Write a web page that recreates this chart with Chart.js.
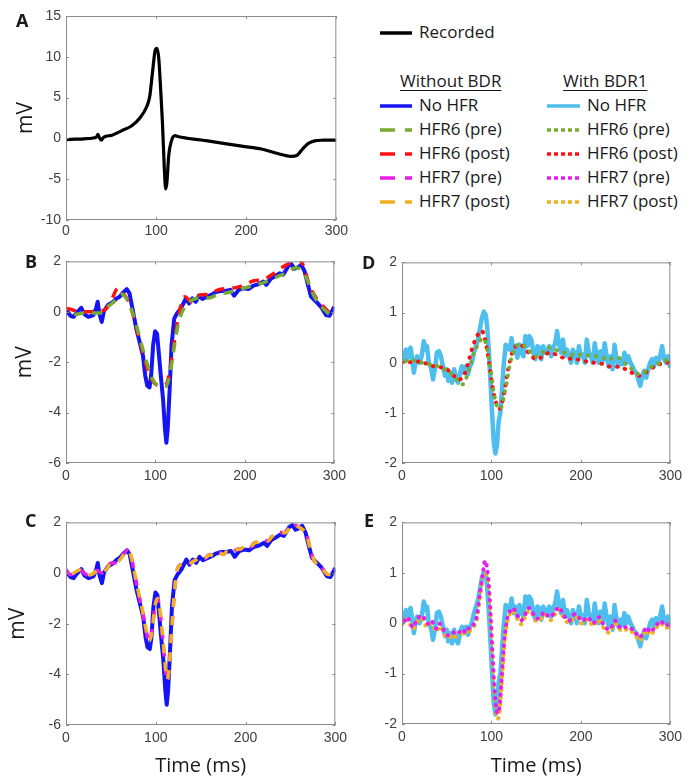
<!DOCTYPE html>
<html>
<head>
<meta charset="utf-8">
<script src="https://cdn.jsdelivr.net/npm/chart.js@4.4.0/dist/chart.umd.min.js"></script>
<style>
  body { margin: 0; background: #fff; width: 689px; height: 783px; position: relative; overflow: hidden;
         font-family: "Open Sans", sans-serif; color: #1a1a1a; }
  canvas { position: absolute; }
  .lbl { position: absolute; font-weight: 700; font-size: 18px; line-height: 18px; }
  .leg { position: absolute; font-size: 17px; line-height: 20px; white-space: nowrap; }
  .hdr { text-decoration: underline; text-underline-offset: 3px; }
  svg { position: absolute; }
</style>
</head>
<body>
<div id="fig"></div>
<script>
// A - recorded signal
const aTime = [0, 10, 20, 30, 34, 35.5, 37, 39, 42, 51, 62, 73, 82, 90, 93, 96, 99, 101, 103, 105, 107, 109, 110.7, 112, 114, 117, 121, 125, 150, 173, 195, 217, 235, 250, 256, 261, 265, 269, 276, 285, 300];
const aRecorded = [-0.15, -0.1, -0.05, 0.05, 0.2, 0.5, 0.1, -0.2, 0.15, 0.4, 0.95, 1.55, 2.5, 4.0, 5.2, 8.1, 10.8, 11.05, 9.75, 6.1, 2.0, -3.4, -6.2, -5.4, -2.1, -0.3, 0.33, 0.2, -0.2, -0.57, -0.95, -1.3, -1.85, -2.2, -2.1, -1.5, -1.0, -0.6, -0.3, -0.22, -0.2];

// B / C - without BDR, no HFR
const bTime = [0, 5, 8.5, 12, 17, 20.7, 25, 30.6, 33.6, 35.4, 37.3, 40, 42.4, 47, 53, 56.5, 60, 64, 68, 71, 75, 78.6, 82.3, 86, 88.6, 90.8, 93.4, 95.2, 97.4, 99.6, 101.8, 104, 106, 108.5, 110.7, 112.2, 113.7, 115.9, 118, 121, 124, 128.4, 134, 137.6, 141.3, 145, 148.7, 152.4, 158, 163.5, 167, 172.7, 178, 183.8, 188, 193, 198.5, 204, 209.6, 215, 220.7, 224, 228.8, 233.6, 239, 242.8, 248.3, 252, 255.7, 259.4, 263, 266.8, 270.5, 274, 279.7, 285, 290.8, 294.5, 300];
const bNoHfr = [0.07, -0.16, -0.2, -0.03, 0.16, -0.1, -0.2, -0.13, 0.13, 0.4, -0.07, -0.4, 0.03, 0.27, 0.4, 0.53, 0.6, 0.77, 0.9, 0.73, 0, -0.67, -1.2, -1.73, -2.53, -2.93, -3.0, -2.53, -1.33, -0.77, -0.87, -1.73, -2.53, -3.47, -4.67, -5.2, -4.67, -3.07, -1.33, -0.27, -0.07, 0.13, 0.53, 0.33, 0.53, 0.4, 0.64, 0.51, 0.6, 0.69, 0.77, 0.83, 0.83, 0.87, 0.64, 0.87, 0.93, 0.9, 1.04, 1.09, 1.2, 1.07, 1.31, 1.4, 1.53, 1.47, 1.8, 1.89, 1.71, 1.76, 1.87, 1.6, 1.07, 0.6, 0.4, 0.2, -0.13, -0.16, 0.2];

const bPostTime = [0, 5, 15, 25, 35, 43, 50, 58, 64, 70, 75, 80, 86, 92, 98, 105, 112, 117, 121, 126, 133, 140, 150, 160, 170, 180, 190, 200, 210, 220, 230, 240, 250, 258, 265, 272, 280, 290, 295, 300];
const bHfr6Post = [0.13, 0.1, 0, 0, 0.03, 0.07, 0.4, 0.93, 0.73, 0.4, -0.13, -0.8, -1.6, -2.4, -2.8, -2.93, -2.87, -2.13, -1.2, -0.13, 0.6, 0.4, 0.67, 0.69, 0.87, 0.93, 0.96, 1.07, 1.23, 1.27, 1.47, 1.73, 1.93, 2.1, 1.87, 1.07, 0.53, 0.13, -0.03, 0.0];

const bPreTime = [0, 10, 20, 30, 38, 45, 55, 62, 68, 75, 80, 86, 92, 98, 105, 112, 117, 121, 126, 133, 140, 150, 160, 170, 180, 190, 200, 210, 220, 230, 240, 250, 256, 262, 268, 275, 282, 290, 295, 300];
const bHfr6Pre = [0.05, -0.1, -0.05, -0.05, -0.05, 0.15, 0.45, 0.7, 0.5, -0.1, -0.7, -1.5, -2.2, -2.75, -2.95, -2.95, -2.3, -1.4, -0.4, 0.2, 0.45, 0.55, 0.55, 0.7, 0.75, 0.85, 0.95, 1.05, 1.15, 1.3, 1.45, 1.6, 1.75, 1.7, 1.4, 0.8, 0.35, 0.05, -0.1, 0.0];

const cTime = [0, 5, 10, 15, 20, 25, 30, 35, 40, 45, 50, 55, 60, 64, 68, 72, 76, 80, 85, 90, 93, 96, 99, 102, 105, 108, 111, 113, 115, 118, 121, 124, 128, 135, 140, 145, 150, 155, 160, 165, 170, 175, 180, 185, 190, 195, 200, 205, 210, 215, 220, 225, 230, 240, 245, 250, 255, 262, 268, 273, 278, 285, 292, 296, 300];
const cHfr7Pre = [0.13, -0.07, 0.03, 0.13, 0, -0.1, -0.03, 0.1, 0, 0.16, 0.4, 0.4, 0.53, 0.73, 0.9, 0.73, 0.07, -0.67, -1.47, -2.4, -2.73, -2.27, -1.33, -1.0, -1.6, -2.67, -3.87, -4.27, -3.73, -2.13, -0.67, 0.13, 0.33, 0.27, 0.43, 0.53, 0.67, 0.6, 0.73, 0.67, 0.83, 0.73, 0.87, 0.8, 0.93, 0.96, 1.09, 1.0, 1.2, 1.23, 1.31, 1.27, 1.47, 1.6, 1.6, 1.87, 1.89, 1.76, 1.53, 0.8, 0.4, 0.2, -0.07, -0.07, 0.13];
const cHfr7Post = [0.12, -0.06, 0.03, 0.12, 0.01, -0.08, -0.03, 0.09, 0.01, 0.15, 0.38, 0.4, 0.52, 0.72, 0.88, 0.72, 0.08, -0.64, -1.44, -2.36, -2.68, -2.24, -1.32, -1.0, -1.58, -2.62, -3.8, -4.2, -3.68, -2.1, -0.66, 0.12, 0.32, 0.27, 0.42, 0.52, 0.66, 0.6, 0.72, 0.67, 0.82, 0.73, 0.86, 0.8, 0.92, 0.96, 1.08, 1.0, 1.19, 1.22, 1.3, 1.27, 1.46, 1.59, 1.6, 1.85, 1.88, 1.75, 1.52, 0.82, 0.41, 0.2, -0.06, -0.06, 0.12];

// D / E - with BDR1, no HFR
const dTime = [0, 2, 4.4, 6, 7.4, 9.6, 11, 13.3, 15, 17, 19.6, 22, 24.4, 26.6, 28, 30, 32.5, 34.7, 37, 39, 41.3, 43.5, 45.8, 48, 50, 51.7, 54, 56, 58.3, 60.5, 62.7, 65, 67, 69.4, 71.6, 73.8, 76, 78, 80.4, 82.7, 85, 87, 89.3, 91.5, 93.7, 95.2, 97, 99, 100.7, 102.6, 104.4, 106.3, 108, 110, 111.8, 113.6, 115.9, 118, 120.3, 122.5, 124.7, 127, 129, 131.4, 133.6, 135.8, 138, 140.2, 142.4, 144.6, 146.9, 149, 151.3, 153.5, 155.7, 158, 160, 162.4, 164.6, 166.8, 169, 171.2, 173.4, 175.6, 177.9, 180, 182.3, 184.5, 186.7, 189, 191, 193.4, 195.6, 197.8, 200, 202.2, 204.4, 206.6, 208.9, 211, 213.3, 215.5, 217.7, 220, 222, 224.4, 226.6, 228.8, 231, 233.2, 235.4, 237.6, 239.9, 242, 244.3, 246.5, 248.7, 251, 253, 255.4, 257.6, 259.8, 262, 264.2, 266.4, 268.6, 270.8, 273, 275.3, 277.5, 279.7, 281.9, 284.1, 286.3, 288.6, 290.8, 293, 295.2, 297.4, 300];
const dNoHfr = [0, 0.13, 0.26, 0.07, 0.23, 0.3, 0.13, -0.2, 0, 0.13, 0, 0.13, 0.43, 0.26, 0.33, 0, -0.1, -0.33, -0.1, 0.2, 0.23, 0.13, -0.07, -0.26, -0.13, -0.36, -0.2, -0.4, -0.13, -0.33, -0.4, -0.2, -0.07, -0.2, -0.07, -0.23, -0.07, 0, 0.2, 0.33, 0.46, 0.66, 0.89, 1.02, 0.95, 0.72, 0.26, -0.4, -0.99, -1.58, -1.81, -1.64, -1.18, -0.99, -0.53, -0.07, 0.36, 0.3, 0.26, 0.49, 0.2, 0.33, 0.1, 0.36, 0.2, 0.13, 0.53, 0.33, 0.53, 0.46, 0.2, 0.07, 0.33, 0.3, 0.07, 0.33, 0.2, 0.23, 0.33, 0.13, 0.3, 0.39, 0.63, 0.36, 0.2, 0.46, 0.13, 0.26, 0.13, 0, 0.26, 0.16, 0, 0.33, 0.13, 0.16, 0, 0.46, 0.2, 0.13, 0, 0.39, 0.13, 0, 0.23, 0.03, 0.39, 0.13, -0.07, 0.13, -0.13, 0.36, 0.07, -0.07, 0.07, -0.03, 0.2, 0, 0.13, 0, -0.07, -0.16, -0.2, -0.33, -0.46, -0.26, -0.16, -0.3, -0.13, 0, 0.07, -0.07, 0.1, 0, 0.13, 0.33, 0.07, 0, 0.13, -0.1];

const dPostTime = [0, 5, 10, 15, 20, 25, 30, 35, 40, 45, 50, 55, 60, 63, 66, 70, 74, 78, 82, 86, 89, 92, 95, 98, 101, 104, 107, 109, 112, 115, 118, 122, 126, 130, 135, 140, 145, 150, 155, 160, 165, 170, 175, 180, 185, 190, 195, 200, 205, 210, 215, 220, 225, 230, 235, 240, 245, 250, 255, 260, 265, 270, 275, 280, 285, 290, 295, 300];
const dHfr6Post = [0, 0.01, 0.01, 0.01, 0.03, 0, -0.05, -0.07, -0.08, -0.1, -0.13, -0.2, -0.3, -0.34, -0.32, -0.23, 0, 0.26, 0.46, 0.59, 0.64, 0.53, 0.26, -0.07, -0.46, -0.72, -0.89, -0.92, -0.79, -0.53, -0.2, 0.13, 0.3, 0.36, 0.33, 0.23, 0.13, 0.07, 0.1, 0.16, 0.2, 0.18, 0.13, 0.1, 0.08, 0.08, 0.07, 0.05, 0.03, 0.01, 0, -0.01, -0.03, -0.07, -0.08, -0.08, -0.1, -0.13, -0.18, -0.23, -0.26, -0.23, -0.16, -0.1, -0.07, -0.01, 0, 0];

const dPreTime = [0, 10, 20, 30, 40, 50, 58, 64, 68, 72, 76, 80, 85, 90, 93, 96, 99, 102, 105, 108, 111, 114, 117, 121, 125, 130, 135, 140, 145, 150, 155, 160, 165, 170, 175, 180, 190, 200, 210, 220, 230, 240, 245, 250, 255, 260, 265, 270, 275, 280, 285, 290, 295, 300];
const dHfr6Pre = [0.01, 0.05, 0.01, -0.03, -0.07, -0.16, -0.26, -0.4, -0.43, -0.3, -0.07, 0.16, 0.36, 0.49, 0.43, 0.2, -0.13, -0.53, -0.79, -0.92, -0.89, -0.66, -0.4, 0, 0.23, 0.36, 0.36, 0.26, 0.2, 0.13, 0.16, 0.26, 0.3, 0.28, 0.23, 0.21, 0.16, 0.16, 0.14, 0.12, 0.07, 0.1, 0.07, -0.03, -0.1, -0.16, -0.23, -0.2, -0.13, -0.07, -0.03, 0.01, 0.05, 0.01];

const eTime = [0, 3, 6, 9, 12, 15, 18, 21, 24, 27, 30, 33, 36, 39, 42, 45, 48, 51, 54, 57, 60, 63, 66, 69, 72, 75, 78, 81, 84, 87, 90, 93, 95, 97, 99, 101, 103, 105, 107, 109, 111, 113, 115, 118, 121, 124, 127, 130, 133, 136, 139, 142, 145, 148, 151, 154, 157, 160, 163, 166, 169, 172, 175, 178, 181, 184, 187, 190, 193, 196, 199, 202, 205, 208, 211, 214, 217, 220, 223, 226, 229, 232, 235, 238, 241, 244, 247, 250, 253, 256, 259, 262, 265, 268, 271, 274, 277, 280, 283, 286, 289, 292, 295, 298, 300];
const eHfr7Pre = [0, 0.05, 0.12, 0.02, -0.08, 0, 0.1, 0.15, 0.12, 0, -0.01, 0.05, -0.05, -0.11, -0.01, -0.08, -0.18, -0.24, -0.21, -0.18, -0.22, -0.2, -0.14, -0.18, -0.08, -0.11, -0.05, 0, 0.18, 0.58, 0.94, 1.24,
  1.1, 0.78, 0.18, -0.54, -1.2, -1.66, -1.79, -1.66, -1.2, -0.67, -0.24,
  0.12, 0.25, 0.3, 0.22, 0.12, 0.05, 0.12, 0.22, 0.3, 0.25, 0.15, 0.09, 0.12, 0.18, 0.22, 0.15, 0.12, 0.18, 0.25, 0.32, 0.25, 0.15, 0.09, 0.05, 0.12, 0.18, 0.15, 0.09, 0.04, 0.09, 0.12, 0.05, 0, 0.07, 0.12, 0.04, -0.05, -0.11, -0.13, -0.05, 0.05, -0.01, -0.08, -0.05, -0.08, -0.07, -0.11, -0.13, -0.21, -0.28, -0.24, -0.14, -0.08, -0.18, -0.14, -0.05, -0.01, 0.05, 0, -0.05, -0.01, 0];
const eHfr7Post = [-0.03, 0.02, 0.08, -0.02, -0.12, -0.05, 0.06, 0.1, 0.05, -0.06, -0.05, 0.0, -0.1, -0.17, -0.06, -0.13, -0.24, -0.3, -0.27, -0.22, -0.28, -0.25, -0.2, -0.24, -0.14, -0.17, -0.1, -0.05, 0.1, 0.5, 0.85, 1.0,
  0.95, 0.7, 0.1, -0.6, -1.3, -1.75, -1.9, -1.78, -1.35, -0.8, -0.32,
  0.05, 0.2, 0.25, 0.15, 0.05, -0.02, 0.06, 0.17, 0.25, 0.2, 0.1, 0.03, 0.06, 0.13, 0.17, 0.1, 0.06, 0.12, 0.2, 0.27, 0.2, 0.1, 0.03, 0.0, 0.07, 0.13, 0.1, 0.03, -0.02, 0.04, 0.07, 0.0, -0.06, 0.02, 0.07, -0.02, -0.11, -0.17, -0.19, -0.1, 0.0, -0.06, -0.13, -0.1, -0.13, -0.12, -0.16, -0.2, -0.27, -0.35, -0.3, -0.2, -0.13, -0.23, -0.2, -0.1, -0.06, 0.0, -0.05, -0.1, -0.06, -0.05];

const xTicks = [0, 100, 200, 300];

// colours (MATLAB-like)
const cBlack = '#000000', cBlue = '#1414f5', cLight = '#4dbeee', cGreen = '#77ac30',
      cRed = '#ff1010', cMag = '#e81ee8', cOrange = '#f2b01e';

const pts = (t, v) => t.map((x, i) => ({ x: x, y: v[i] }));

// box + inward ticks like MATLAB axes
const matlabBox = {
  id: 'matlabBox',
  afterDraw(chart) {
    const { ctx, chartArea: a, scales: { x, y } } = chart;
    ctx.save();
    ctx.strokeStyle = '#8c8c8c';
    ctx.lineWidth = 1;
    ctx.strokeRect(a.left + 0.5, a.top + 0.5, a.right - a.left - 1, a.bottom - a.top - 1);
    ctx.beginPath();
    x.ticks.forEach(t => {
      const px = Math.round(x.getPixelForValue(t.value)) + 0.5;
      ctx.moveTo(px, a.bottom); ctx.lineTo(px, a.bottom - 3);
      ctx.moveTo(px, a.top); ctx.lineTo(px, a.top + 3);
    });
    y.ticks.forEach(t => {
      const py = Math.round(y.getPixelForValue(t.value)) + 0.5;
      ctx.moveTo(a.left, py); ctx.lineTo(a.left + 3, py);
      ctx.moveTo(a.right, py); ctx.lineTo(a.right - 3, py);
    });
    ctx.stroke();
    ctx.restore();
  }
};

const fig = document.getElementById('fig');

function panel(p) {
  const padTop = p.padTop || 12, padRight = 14, yW = 66;
  const cv = document.createElement('canvas');
  const w = (p.R - p.L) + yW + padRight;
  const h = (p.B - p.T) + padTop + p.xH;
  cv.width = w; cv.height = h;
  cv.style.left = (p.L - yW) + 'px';
  cv.style.top = (p.T - padTop) + 'px';
  fig.appendChild(cv);
  const tickFont = { family: 'Liberation Sans', size: 14 };
  const yTitleFont = { family: 'Open Sans', size: 21, lineHeight: 1.2 };
  const xTitleFont = { family: 'Open Sans', size: 20, lineHeight: 1.2 };
  new Chart(cv, {
    type: 'line',
    data: { datasets: p.datasets.map(d => Object.assign({
      pointRadius: 0, tension: 0, fill: false, borderWidth: 3.5, borderJoinStyle: 'round'
    }, d)) },
    options: {
      responsive: false, animation: false, events: [],
      layout: { padding: { top: padTop, right: padRight, left: 0, bottom: 0 } },
      plugins: { legend: { display: false }, tooltip: { enabled: false } },
      scales: {
        x: {
          type: 'linear', min: 0, max: 300,
          afterBuildTicks: s => { s.ticks = xTicks.map(v => ({ value: v })); },
          afterFit: s => { s.height = p.xH; },
          grid: { display: false, drawTicks: false },
          border: { display: false },
          ticks: { font: tickFont, color: '#404040', padding: p.xPad || 5, maxRotation: 0 },
          title: { display: !!p.xTitle, text: p.xTitle || '', font: xTitleFont, color: '#1a1a1a',
                   padding: { top: 0, bottom: 5 } }
        },
        y: {
          min: p.yMin, max: p.yMax,
          ticks: { stepSize: p.yStep, font: tickFont, color: '#404040', padding: 5 },
          afterFit: s => { s.width = yW; },
          grid: { display: false, drawTicks: false },
          border: { display: false },
          title: { display: !!p.yTitle, text: p.yTitle || '', font: yTitleFont, color: '#1a1a1a',
                   padding: { top: p.yTitlePad || 0, bottom: 0 } }
        }
      }
    },
    plugins: [matlabBox]
  });
}

const smooth = { cubicInterpolationMode: 'monotone' };

panel({ L: 66, T: 16, R: 337, B: 220, padTop: 16, xH: 30, xPad: 3, yMin: -10, yMax: 15, yStep: 5,
  yTitle: 'mV', yTitlePad: 13.4,
  datasets: [Object.assign({ data: pts(aTime, aRecorded), borderColor: cBlack, borderWidth: 3.2 }, smooth)] });

panel({ L: 66, T: 260, R: 337, B: 463, xH: 28, yMin: -6, yMax: 2, yStep: 2,
  yTitle: 'mV', yTitlePad: 12.4,
  datasets: [
    Object.assign({ data: pts(bPreTime, bHfr6Pre), borderColor: cGreen, borderDash: [10, 8], borderDashOffset: 9 }, smooth),
    Object.assign({ data: pts(bPostTime, bHfr6Post), borderColor: cRed, borderDash: [10, 8] }, smooth),
    { data: pts(bTime, bNoHfr), borderColor: cBlue, borderWidth: 4 }
  ] });

panel({ L: 66, T: 521, R: 338, B: 725, xH: 58, yMin: -6, yMax: 2, yStep: 2,
  yTitle: 'mV', yTitlePad: 5.4, xTitle: 'Time (ms)',
  datasets: [
    Object.assign({ data: pts(cTime, cHfr7Post), borderColor: cOrange, borderDash: [9, 9], borderDashOffset: 9 }, smooth),
    Object.assign({ data: pts(cTime, cHfr7Pre), borderColor: cMag, borderDash: [9, 9] }, smooth),
    { data: pts(bTime, bNoHfr), borderColor: cBlue, borderWidth: 4 }
  ] });

panel({ L: 402, T: 261, R: 673, B: 463, xH: 28, yMin: -2, yMax: 2, yStep: 1,
  datasets: [
    Object.assign({ data: pts(dPreTime, dHfr6Pre), borderColor: cGreen, borderWidth: 4, borderCapStyle: 'round', borderDash: [0.5, 7.5], borderDashOffset: 4 }, smooth),
    Object.assign({ data: pts(dPostTime, dHfr6Post), borderColor: cRed, borderWidth: 4, borderCapStyle: 'round', borderDash: [0.5, 7.5] }, smooth),
    { data: pts(dTime, dNoHfr), borderColor: cLight, borderWidth: 4.5 }
  ] });

panel({ L: 402, T: 521, R: 673, B: 724, xH: 59, yMin: -2, yMax: 2, yStep: 1, xTitle: 'Time (ms)',
  datasets: [
    Object.assign({ data: pts(eTime, eHfr7Pre), borderColor: cMag, borderWidth: 4, borderCapStyle: 'round', borderDash: [0.5, 6.5], borderDashOffset: 3.5 }, smooth),
    Object.assign({ data: pts(eTime, eHfr7Post), borderColor: cOrange, borderWidth: 4, borderCapStyle: 'round', borderDash: [0.5, 6.5] }, smooth),
    { data: pts(dTime, dNoHfr), borderColor: cLight, borderWidth: 4.5 }
  ] });

// panel letters
const letters = [['A', 16, 11], ['B', 25, 252], ['C', 25, 511], ['D', 362, 253], ['E', 364, 511]];
letters.forEach(([t, x, y]) => {
  const d = document.createElement('div');
  d.className = 'lbl'; d.textContent = t;
  d.style.left = x + 'px'; d.style.top = y + 'px';
  fig.appendChild(d);
});

// legend
const legLeftLabels = ['No HFR', 'HFR6 (pre)', 'HFR6 (post)', 'HFR7 (pre)', 'HFR7 (post)'];
const legLeftColors = [cBlue, cGreen, cRed, cMag, cOrange];
const legRightLabels = ['No HFR', 'HFR6 (pre)', 'HFR6 (post)', 'HFR7 (pre)', 'HFR7 (post)'];
const legRightColors = [cLight, cGreen, cRed, cMag, cOrange];
const legRows = [106, 130, 154, 178, 202];

function legText(x, yc, text, cls) {
  const d = document.createElement('div');
  d.className = 'leg' + (cls ? ' ' + cls : '');
  d.textContent = text;
  d.style.left = x + 'px'; d.style.top = (yc - 11) + 'px';
  fig.appendChild(d);
}
function legLine(x0, x1, yc, color, dash) {
  const w = x1 - x0;
  const ns = 'http://www.w3.org/2000/svg';
  const svg = document.createElementNS(ns, 'svg');
  svg.setAttribute('width', w); svg.setAttribute('height', 8);
  svg.style.left = x0 + 'px'; svg.style.top = (yc - 4) + 'px';
  const ln = document.createElementNS(ns, 'line');
  ln.setAttribute('x1', 0); ln.setAttribute('y1', 4);
  ln.setAttribute('x2', w); ln.setAttribute('y2', 4);
  ln.setAttribute('stroke', color); ln.setAttribute('stroke-width', 3.5);
  if (dash) ln.setAttribute('stroke-dasharray', dash);
  svg.appendChild(ln);
  fig.appendChild(svg);
}

legLine(380, 412, 33, cBlack);
legText(419, 33, 'Recorded');
legText(400, 82, 'Without BDR', 'hdr');
legText(563, 82, 'With BDR1', 'hdr');
legRows.forEach((y, i) => {
  legLine(380, 412, y, legLeftColors[i], i === 0 ? null : '15 10 15');
  legText(419, y, legLeftLabels[i]);
  legLine(547, 580, y, legRightColors[i], i === 0 ? null : '4 3');
  legText(587, y, legRightLabels[i]);
});
</script>
</body>
</html>
